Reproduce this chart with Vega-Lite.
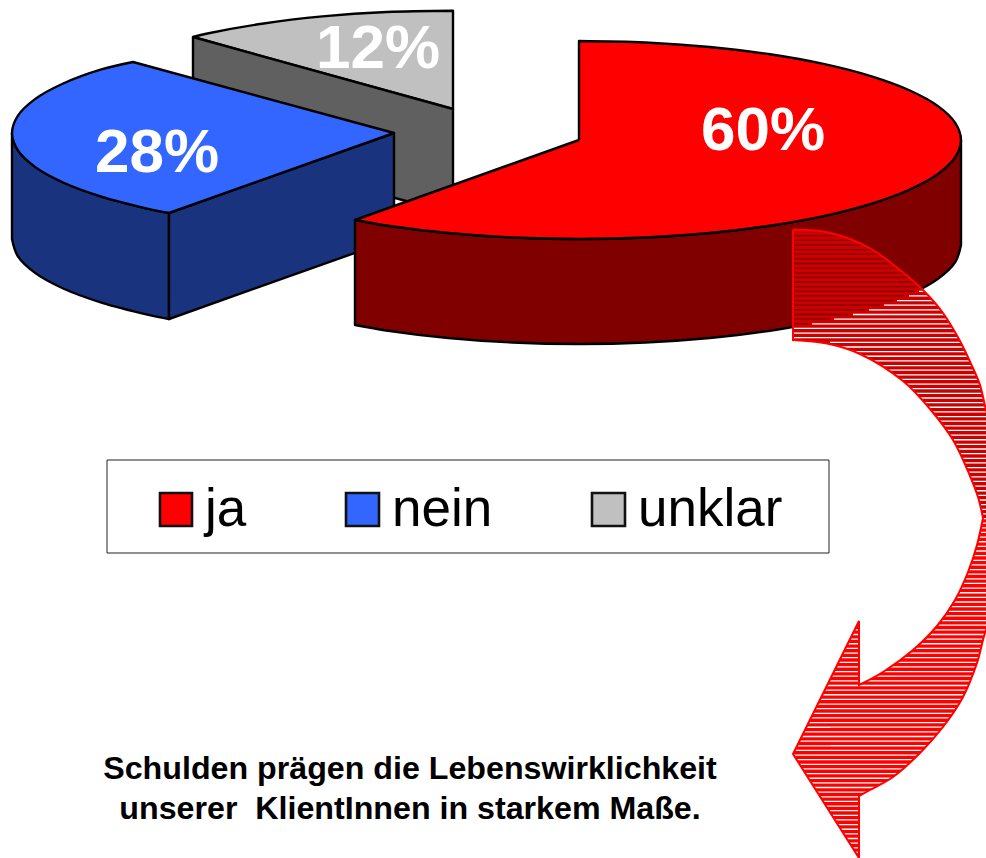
{"$schema":"https://vega.github.io/schema/vega-lite/v6.json","width":986,"height":858,"padding":0,"autosize":{"type":"none"},"background":"white","config":{"view":{"stroke":null}},
"resolve":{"scale":{"fill":"independent"}},
"datasets":{
"pie":[
{"p":"gtop","x":453,"y":109},{"p":"gtop","x":453,"y":109},{"p":"gtop","x":453,"y":10.7},{"p":"gtop","x":453,"y":10.7},{"p":"gtop","x":453,"y":10.7},{"p":"gtop","x":386.7,"y":12},{"p":"gtop","x":322.4,"y":16.4},{"p":"gtop","x":262,"y":23.7},{"p":"gtop","x":207.4,"y":33.5},{"p":"gtop","x":193,"y":37},{"p":"gtop","x":193,"y":37},{"p":"gtop","x":193,"y":37},{"p":"gtop","x":453,"y":109},{"p":"gtop","x":453,"y":109},
{"p":"gwall","x":193,"y":37},{"p":"gwall","x":193,"y":37},{"p":"gwall","x":453,"y":109},{"p":"gwall","x":453,"y":109},{"p":"gwall","x":453,"y":109},{"p":"gwall","x":453,"y":214},{"p":"gwall","x":453,"y":214},{"p":"gwall","x":453,"y":214},{"p":"gwall","x":193,"y":142},{"p":"gwall","x":193,"y":142},{"p":"gwall","x":193,"y":142},{"p":"gwall","x":193,"y":37},{"p":"gwall","x":193,"y":37},
{"p":"bleft","x":169,"y":213},{"p":"bleft","x":169,"y":213},{"p":"bleft","x":148.4,"y":208.8},{"p":"bleft","x":101.4,"y":196.6},{"p":"bleft","x":63.2,"y":182.5},{"p":"bleft","x":35,"y":166.9},{"p":"bleft","x":17.8,"y":150.2},{"p":"bleft","x":12,"y":133},{"p":"bleft","x":12,"y":133},{"p":"bleft","x":12,"y":133},{"p":"bleft","x":12,"y":239},{"p":"bleft","x":12,"y":239},{"p":"bleft","x":12,"y":239},{"p":"bleft","x":17.8,"y":256.2},{"p":"bleft","x":35,"y":272.9},{"p":"bleft","x":63.2,"y":288.5},{"p":"bleft","x":101.4,"y":302.6},{"p":"bleft","x":148.4,"y":314.8},{"p":"bleft","x":169,"y":319},{"p":"bleft","x":169,"y":319},{"p":"bleft","x":169,"y":319},{"p":"bleft","x":169,"y":213},{"p":"bleft","x":169,"y":213},
{"p":"bfront","x":169,"y":213},{"p":"bfront","x":169,"y":213},{"p":"bfront","x":394,"y":133},{"p":"bfront","x":394,"y":133},{"p":"bfront","x":394,"y":133},{"p":"bfront","x":394,"y":239},{"p":"bfront","x":394,"y":239},{"p":"bfront","x":394,"y":239},{"p":"bfront","x":169,"y":319},{"p":"bfront","x":169,"y":319},{"p":"bfront","x":169,"y":319},{"p":"bfront","x":169,"y":213},{"p":"bfront","x":169,"y":213},
{"p":"btop","x":394,"y":133},{"p":"btop","x":394,"y":133},{"p":"btop","x":169,"y":213},{"p":"btop","x":169,"y":213},{"p":"btop","x":169,"y":213},{"p":"btop","x":148.4,"y":208.8},{"p":"btop","x":101.4,"y":196.6},{"p":"btop","x":63.2,"y":182.5},{"p":"btop","x":35,"y":166.9},{"p":"btop","x":17.8,"y":150.2},{"p":"btop","x":12,"y":133},{"p":"btop","x":17.8,"y":115.8},{"p":"btop","x":35,"y":99.1},{"p":"btop","x":63.2,"y":83.5},{"p":"btop","x":101.4,"y":69.4},{"p":"btop","x":133,"y":62},{"p":"btop","x":133,"y":62},{"p":"btop","x":133,"y":62},{"p":"btop","x":394,"y":133},{"p":"btop","x":394,"y":133},
{"p":"rwall","x":961,"y":140},{"p":"rwall","x":961,"y":140},{"p":"rwall","x":955.2,"y":157.2},{"p":"rwall","x":938,"y":173.9},{"p":"rwall","x":909.8,"y":189.5},{"p":"rwall","x":871.6,"y":203.6},{"p":"rwall","x":824.6,"y":215.8},{"p":"rwall","x":770,"y":225.7},{"p":"rwall","x":709.6,"y":233},{"p":"rwall","x":645.3,"y":237.5},{"p":"rwall","x":579,"y":239},{"p":"rwall","x":512.7,"y":237.5},{"p":"rwall","x":448.4,"y":233},{"p":"rwall","x":388,"y":225.7},{"p":"rwall","x":355,"y":220},{"p":"rwall","x":355,"y":220},{"p":"rwall","x":355,"y":220},{"p":"rwall","x":355,"y":325},{"p":"rwall","x":355,"y":325},{"p":"rwall","x":355,"y":325},{"p":"rwall","x":388,"y":330.7},{"p":"rwall","x":448.4,"y":338},{"p":"rwall","x":512.7,"y":342.5},{"p":"rwall","x":579,"y":344},{"p":"rwall","x":645.3,"y":342.5},{"p":"rwall","x":709.6,"y":338},{"p":"rwall","x":770,"y":330.7},{"p":"rwall","x":824.6,"y":320.8},{"p":"rwall","x":871.6,"y":308.6},{"p":"rwall","x":909.8,"y":294.5},{"p":"rwall","x":938,"y":278.9},{"p":"rwall","x":955.2,"y":262.2},{"p":"rwall","x":961,"y":245},{"p":"rwall","x":961,"y":245},{"p":"rwall","x":961,"y":245},{"p":"rwall","x":961,"y":140},{"p":"rwall","x":961,"y":140},
{"p":"rtop","x":579,"y":140},{"p":"rtop","x":579,"y":140},{"p":"rtop","x":579,"y":41},{"p":"rtop","x":579,"y":41},{"p":"rtop","x":579,"y":41},{"p":"rtop","x":645.3,"y":42.5},{"p":"rtop","x":709.6,"y":47},{"p":"rtop","x":770,"y":54.3},{"p":"rtop","x":824.6,"y":64.2},{"p":"rtop","x":871.6,"y":76.4},{"p":"rtop","x":909.8,"y":90.5},{"p":"rtop","x":938,"y":106.1},{"p":"rtop","x":955.2,"y":122.8},{"p":"rtop","x":961,"y":140},{"p":"rtop","x":955.2,"y":157.2},{"p":"rtop","x":938,"y":173.9},{"p":"rtop","x":909.8,"y":189.5},{"p":"rtop","x":871.6,"y":203.6},{"p":"rtop","x":824.6,"y":215.8},{"p":"rtop","x":770,"y":225.7},{"p":"rtop","x":709.6,"y":233},{"p":"rtop","x":645.3,"y":237.5},{"p":"rtop","x":579,"y":239},{"p":"rtop","x":512.7,"y":237.5},{"p":"rtop","x":448.4,"y":233},{"p":"rtop","x":388,"y":225.7},{"p":"rtop","x":355,"y":220},{"p":"rtop","x":355,"y":220},{"p":"rtop","x":355,"y":220},{"p":"rtop","x":579,"y":140},{"p":"rtop","x":579,"y":140}
],
"arrow":[{"x":793,"y":229.5},{"x":793,"y":229.5},{"x":823,"y":231.5},{"x":850,"y":239},{"x":873,"y":250},{"x":900,"y":270},{"x":923,"y":290},{"x":943,"y":313},{"x":960,"y":341},{"x":972,"y":366},{"x":980,"y":385},{"x":986,"y":410},{"x":1000,"y":460},{"x":1000,"y":600},{"x":986,"y":630},{"x":977,"y":663},{"x":963,"y":697},{"x":943,"y":727},{"x":920,"y":753},{"x":893,"y":777},{"x":870,"y":790},{"x":859,"y":796},{"x":859,"y":796},{"x":859,"y":796},{"x":859,"y":858},{"x":859,"y":858},{"x":859,"y":858},{"x":793,"y":754},{"x":793,"y":754},{"x":793,"y":754},{"x":859,"y":621},{"x":859,"y":621},{"x":859,"y":621},{"x":859,"y":685},{"x":859,"y":685},{"x":859,"y":685},{"x":883,"y":672},{"x":913,"y":650},{"x":937,"y":626},{"x":955,"y":600},{"x":968,"y":572},{"x":977,"y":545},{"x":983,"y":518},{"x":983,"y":518},{"x":983,"y":518},{"x":978,"y":497},{"x":970,"y":476},{"x":953,"y":440},{"x":930,"y":409},{"x":903,"y":381},{"x":860,"y":354},{"x":827,"y":343.5},{"x":793,"y":340},{"x":793,"y":340},{"x":793,"y":340},{"x":793,"y":229.5},{"x":793,"y":229.5}],
"arrowTop":[{"x":793,"y":229.5},{"x":793,"y":229.5},{"x":823,"y":231.5},{"x":850,"y":239},{"x":873,"y":250},{"x":900,"y":270},{"x":923,"y":290},{"x":943,"y":313},{"x":960,"y":341},{"x":972,"y":366},{"x":980,"y":385},{"x":986,"y":410},{"x":1000,"y":460},{"x":1000,"y":518},{"x":1000,"y":518},{"x":1000,"y":518},{"x":983,"y":518},{"x":983,"y":518},{"x":983,"y":518},{"x":978,"y":497},{"x":970,"y":476},{"x":953,"y":440},{"x":930,"y":409},{"x":903,"y":381},{"x":860,"y":354},{"x":827,"y":343.5},{"x":793,"y":340},{"x":793,"y":340},{"x":793,"y":340},{"x":793,"y":229.5},{"x":793,"y":229.5}],
"darkStripes":[{"y":235.6,"x":793,"x2":838},{"y":240.3,"x":793,"x2":851},{"y":244.9,"x":793,"x2":861},{"y":249.6,"x":793,"x2":872},{"y":254.2,"x":793,"x2":879},{"y":258.8,"x":793,"x2":885},{"y":263.5,"x":793,"x2":892},{"y":268.1,"x":793,"x2":898},{"y":272.8,"x":793,"x2":903},{"y":277.4,"x":793,"x2":908},{"y":282,"x":793,"x2":914},{"y":286.7,"x":793,"x2":919},{"y":291.3,"x":793,"x2":915},{"y":295.9,"x":793,"x2":905},{"y":300.6,"x":793,"x2":893},{"y":305.2,"x":793,"x2":880},{"y":309.9,"x":793,"x2":865},{"y":314.5,"x":793,"x2":849},{"y":319.1,"x":793,"x2":830},{"y":323.8,"x":793,"x2":808}],
"lightStripes":[{"y":291.3,"x":919},{"y":295.9,"x":909},{"y":300.6,"x":897},{"y":305.2,"x":884},{"y":309.9,"x":869},{"y":314.5,"x":853},{"y":319.1,"x":834},{"y":323.8,"x":812},{"y":328.4,"x":793},{"y":333.1,"x":793},{"y":337.7,"x":793}],
"legendBox":[{"x":107,"x2":829,"y":460,"y2":553}],
"swatches":[{"k":"ja","x":160,"x2":192,"y":493,"y2":526},{"k":"nein","x":346,"x2":379,"y":493,"y2":526},{"k":"unklar","x":592,"x2":625,"y":493,"y2":526}],
"legendText":[{"t":"ja","x":205,"y":526},{"t":"nein","x":392,"y":526},{"t":"unklar","x":638,"y":526}],
"pct":[{"t":"60%","x":763,"y":150},{"t":"28%","x":157,"y":172},{"t":"12%","x":378,"y":68}],
"caption":[{"t":"Schulden prägen die Lebenswirklichkeit","x":410,"y":779},{"t":"unserer\u00a0 KlientInnen in starkem Maße.","x":410,"y":819}]
},
"encoding":{"x":{"field":"x","type":"quantitative","scale":{"domain":[0,986],"nice":false,"zero":false},"axis":null},"y":{"field":"y","type":"quantitative","scale":{"domain":[858,0],"nice":false,"zero":false},"axis":null}},
"layer":[
{"data":{"name":"pie"},"mark":{"type":"line","interpolate":"catmull-rom","stroke":"black","strokeWidth":2.4,"strokeJoin":"round"},"encoding":{"order":{"value":null},"detail":{"field":"p"},"fill":{"field":"p","type":"nominal","legend":null,"sort":null,"scale":{"domain":["gtop","gwall","bleft","bfront","btop","rwall","rtop"],"range":["#C0C0C0","#606060","#19337F","#19337F","#3366FF","#800000","#FF0000"]}}}},
{"data":{"name":"arrow"},"mark":{"type":"line","interpolate":"catmull-rom","fill":"#FF0000","stroke":null,"clip":true},"encoding":{"order":{"value":null}}},
{"data":{"name":"arrowTop"},"mark":{"type":"line","interpolate":"catmull-rom","fill":"#CC0000","stroke":null,"clip":true},"encoding":{"order":{"value":null}}},
{"data":{"name":"darkStripes"},"mark":{"type":"rule","stroke":"#800000","strokeWidth":1.3},"encoding":{"x2":{"field":"x2"}}},
{"data":{"name":"lightStripes"},"mark":{"type":"rule","stroke":"white","strokeWidth":1.3},"encoding":{"x2":{"datum":986}}},
{"data":{"values":[{"x":908,"y":341.7,"y2":858}]},"mark":{"type":"rule","stroke":"white","strokeWidth":156,"strokeDash":[1.3,3.337]},"encoding":{"y2":{"field":"y2"}}},
{"data":{"values":[{"x":811,"y":684.85,"y2":858}]},"mark":{"type":"rule","stroke":"white","strokeWidth":38,"strokeDash":[1.3,3.337]},"encoding":{"y2":{"field":"y2"}}},
{"data":{"name":"arrow"},"mark":{"type":"line","interpolate":"catmull-rom","stroke":"#FF0000","strokeWidth":2,"clip":true},"encoding":{"order":{"value":null}}},
{"data":{"name":"legendBox"},"mark":{"type":"rect","fill":"white","stroke":"#222222","strokeWidth":1},"encoding":{"x2":{"field":"x2"},"y2":{"field":"y2"}}},
{"data":{"name":"swatches"},"mark":{"type":"rect","stroke":"#111111","strokeWidth":2.6},"encoding":{"x2":{"field":"x2"},"y2":{"field":"y2"},"fill":{"field":"k","type":"nominal","legend":null,"scale":{"domain":["ja","nein","unklar"],"range":["#FF0000","#3366FF","#C0C0C0"]}}}},
{"data":{"name":"legendText"},"mark":{"type":"text","font":"Liberation Sans","fontSize":53,"align":"left","baseline":"alphabetic","color":"black"},"encoding":{"text":{"field":"t"}}},
{"data":{"name":"pct"},"mark":{"type":"text","font":"Liberation Sans","fontSize":62,"fontWeight":"bold","align":"center","baseline":"alphabetic","color":"white"},"encoding":{"text":{"field":"t"}}},
{"data":{"name":"caption"},"mark":{"type":"text","font":"Liberation Sans","fontSize":32.2,"fontWeight":"bold","align":"center","baseline":"alphabetic","color":"black"},"encoding":{"text":{"field":"t"}}}
]}
